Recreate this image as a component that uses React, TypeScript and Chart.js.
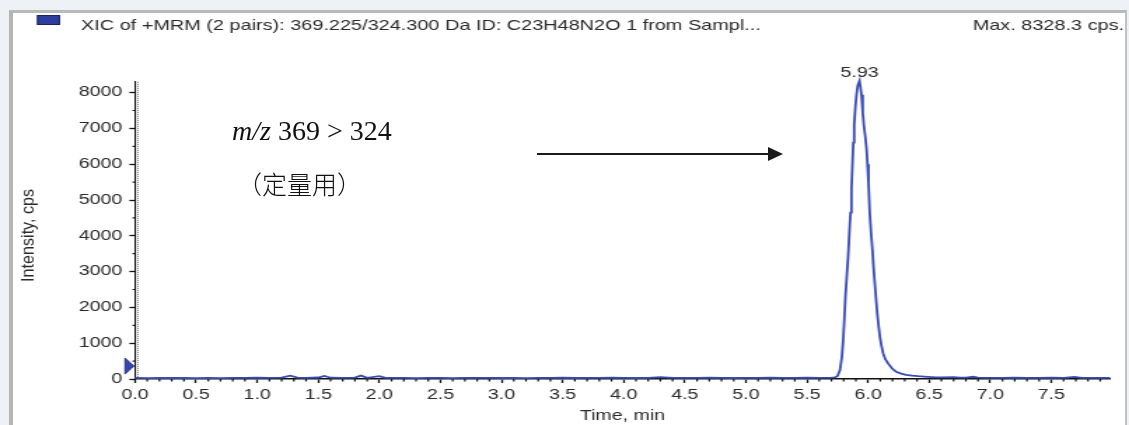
import React, { useEffect, useRef } from 'react';
import { Chart, registerables } from 'chart.js';

Chart.register(...registerables);

// Extracted ion chromatogram, MRM 369.225 -> 324.300
const TIME_MIN = [
  0.0, 0.1, 0.2, 0.3, 0.4, 0.5, 0.6, 0.7, 0.8, 0.9,
  1.0, 1.1, 1.2, 1.27, 1.33, 1.4, 1.5, 1.55, 1.6, 1.7,
  1.8, 1.85, 1.9, 2.0, 2.05, 2.1, 2.2, 2.3, 2.4, 2.5,
  2.6, 2.7, 2.8, 2.9, 3.0, 3.1, 3.2, 3.3, 3.4, 3.5,
  3.6, 3.7, 3.8, 3.9, 4.0, 4.1, 4.2, 4.3, 4.4, 4.5,
  4.6, 4.7, 4.8, 4.9, 5.0, 5.1, 5.2, 5.3, 5.4, 5.5,
  5.6, 5.7, 5.73, 5.75, 5.77, 5.785, 5.796, 5.805, 5.815, 5.826,
  5.837, 5.846, 5.856, 5.864, 5.872, 5.879, 5.886, 5.896, 5.905, 5.915,
  5.93, 5.946, 5.956, 5.965, 5.976, 5.987, 5.995, 6.003, 6.014, 6.025,
  6.036, 6.045, 6.055, 6.065, 6.075, 6.086, 6.097, 6.11, 6.123, 6.14,
  6.165, 6.195, 6.23, 6.27, 6.31, 6.36, 6.41, 6.46, 6.52, 6.56,
  6.6, 6.7, 6.75, 6.8, 6.86, 6.9, 7.0, 7.1, 7.2, 7.3,
  7.4, 7.5, 7.6, 7.69, 7.75, 7.8, 7.9, 7.98,
];

const INTENSITY_CPS = [
  30, 26, 34, 28, 31, 27, 33, 25, 30, 29,
  35, 31, 38, 92, 40, 33, 42, 88, 36, 30,
  38, 95, 34, 78, 32, 29, 31, 27, 33, 30,
  26, 32, 29, 34, 28, 31, 27, 33, 30, 35,
  28, 32, 29, 36, 31, 28, 34, 52, 30, 33,
  29, 35, 31, 28, 34, 30, 37, 32, 29, 35,
  31, 36, 42, 85, 250, 600, 1080, 1650, 2330, 2900,
  3440, 4050, 4650, 5300, 6000, 6600, 7100, 7600, 7940, 8200,
  8328.3, 7940, 7450, 7100, 6800, 6450, 6000, 5500, 4600, 4050,
  3580, 3100, 2670, 2230, 1830, 1480, 1170, 920, 720, 560,
  430, 300, 200, 150, 115, 95, 80, 68, 55, 48,
  44, 55, 40, 38, 62, 36, 34, 31, 35, 30,
  33, 36, 31, 58, 34, 30, 33, 31,
];

const HEADER_TITLE = 'XIC of +MRM (2 pairs): 369.225/324.300 Da ID: C23H48N2O 1 from Sampl...';
const X_TITLE = 'Time, min';
const Y_TITLE = 'Intensity, cps';
const THRESHOLD_CPS = 360;

const X_MIN = 0;
const X_MAX = 7.98;
const Y_MIN = 0;
const Y_MAX = 8300;
const X_MINOR_STEP = 0.1;
const X_MAJOR_STEP = 0.5;
const Y_MINOR_STEP = 500;
const Y_MAJOR_STEP = 1000;

// The whole plot is drawn on a narrower canvas and widened horizontally.
const PAGE_W = 1129;
const PAGE_H = 425;
const CANVAS_W = 806;
const SX = PAGE_W / CANVAS_W;

const PLOT_LEFT = 135;
const PLOT_RIGHT = 1110;
const PLOT_BOTTOM = 379;
const PX_PER_CPS = 0.0358;

const LINE_COLOR = '#3a4cb4';
const TEXT_COLOR = '#2a2a2a';
const AXIS_COLOR = '#111111';
const SANS = "'Liberation Sans', Arial, sans-serif";

const isStep = (v: number, step: number) => Math.abs(v / step - Math.round(v / step)) < 1e-6;

const xicDecorations = {
  id: 'xicDecorations',
  afterDraw(chart: any) {
    const { ctx, chartArea, scales } = chart;
    const xs = scales.x;
    const ys = scales.y;
    ctx.save();

    // header: legend swatch, trace description, maximum
    ctx.fillStyle = '#2d3f9e';
    ctx.fillRect(37 / SX, 15, 23 / SX, 10);
    ctx.strokeStyle = '#1a2260';
    ctx.lineWidth = 1;
    ctx.strokeRect(37 / SX + 0.5, 15.5, 23 / SX - 1, 9);

    const maxVal = Math.max(...INTENSITY_CPS);
    ctx.font = `14.2px ${SANS}`;
    ctx.fillStyle = TEXT_COLOR;
    ctx.textBaseline = 'alphabetic';
    ctx.textAlign = 'left';
    ctx.fillText(HEADER_TITLE, 81 / SX, 29.5);
    ctx.textAlign = 'right';
    ctx.fillText(`Max. ${maxVal.toFixed(1)} cps.`, 1124 / SX, 29.5);

    // dotted companion line right of the y axis
    ctx.strokeStyle = '#555';
    ctx.lineWidth = 0.8;
    ctx.setLineDash([1, 1]);
    ctx.beginPath();
    ctx.moveTo(chartArea.left + 3 / SX, chartArea.top);
    ctx.lineTo(chartArea.left + 3 / SX, chartArea.bottom);
    ctx.stroke();
    ctx.setLineDash([]);

    // minor ticks
    ctx.strokeStyle = AXIS_COLOR;
    ctx.lineWidth = 1.2;
    ctx.beginPath();
    xs.ticks.forEach((t: any) => {
      if (isStep(t.value, X_MAJOR_STEP)) return;
      const px = xs.getPixelForValue(t.value);
      ctx.moveTo(px, chartArea.bottom);
      ctx.lineTo(px, chartArea.bottom + 2.5);
    });
    for (let v = Y_MIN + Y_MINOR_STEP; v < Y_MAX; v += Y_MAJOR_STEP) {
      const py = ys.getPixelForValue(v);
      ctx.moveTo(chartArea.left, py);
      ctx.lineTo(chartArea.left - 2.5 / SX, py);
    }
    ctx.stroke();

    // threshold marker on the y axis
    const ty = ys.getPixelForValue(THRESHOLD_CPS);
    ctx.fillStyle = '#3446b0';
    ctx.strokeStyle = '#1d2870';
    ctx.lineWidth = 0.8;
    ctx.beginPath();
    ctx.moveTo(chartArea.left - 1 / SX, ty);
    ctx.lineTo(chartArea.left - 10 / SX, ty - 8);
    ctx.lineTo(chartArea.left - 10 / SX, ty + 8);
    ctx.closePath();
    ctx.fill();
    ctx.stroke();

    // apex label
    const iMax = INTENSITY_CPS.indexOf(maxVal);
    const apexX = xs.getPixelForValue(TIME_MIN[iMax]);
    const apexY = ys.getPixelForValue(maxVal);
    ctx.font = `14px ${SANS}`;
    ctx.fillStyle = TEXT_COLOR;
    ctx.textAlign = 'center';
    ctx.textBaseline = 'alphabetic';
    ctx.fillText(TIME_MIN[iMax].toFixed(2), apexX, apexY - 4);

    // y axis title, kept at its natural width
    ctx.save();
    ctx.translate(28.5 / SX, (chartArea.top + chartArea.bottom) / 2 + 5);
    ctx.scale(1 / SX, 1);
    ctx.rotate(-Math.PI / 2);
    ctx.scale(0.95, 1);
    ctx.font = `17px ${SANS}`;
    ctx.textAlign = 'center';
    ctx.textBaseline = 'middle';
    ctx.fillStyle = TEXT_COLOR;
    ctx.fillText(Y_TITLE, 0, 0);
    ctx.restore();

    ctx.restore();
  },
};

export default function App() {
  const canvasRef = useRef<HTMLCanvasElement>(null);

  useEffect(() => {
    const points = TIME_MIN.map((t, i) => ({ x: t, y: INTENSITY_CPS[i] }));
    const tickFont = { family: SANS, size: 14 };
    const chart = new Chart(canvasRef.current as HTMLCanvasElement, {
      type: 'line',
      data: {
        datasets: [
          {
            label: HEADER_TITLE,
            data: points,
            borderColor: LINE_COLOR,
            borderWidth: 1.8,
            pointRadius: 0,
            tension: 0,
            fill: false,
            clip: false as any,
          },
        ],
      },
      options: {
        animation: false,
        responsive: false,
        devicePixelRatio: 1,
        layout: {
          padding: {
            left: 0,
            right: CANVAS_W - PLOT_RIGHT / SX,
            top: PLOT_BOTTOM - Y_MAX * PX_PER_CPS,
            bottom: 0,
          },
        },
        plugins: {
          legend: { display: false },
          tooltip: { enabled: false },
          title: { display: false },
        },
        scales: {
          x: {
            type: 'linear',
            position: 'bottom',
            min: X_MIN,
            max: X_MAX,
            afterFit: (s: any) => {
              s.height = PAGE_H - PLOT_BOTTOM;
            },
            grid: {
              display: true,
              drawOnChartArea: false,
              drawTicks: true,
              tickLength: 4,
              tickWidth: 1.3,
              tickColor: (c: any) => (c.tick && isStep(c.tick.value, X_MAJOR_STEP) ? AXIS_COLOR : 'rgba(0,0,0,0)'),
            },
            border: { display: true, color: AXIS_COLOR, width: 1.6 },
            ticks: {
              stepSize: X_MINOR_STEP,
              autoSkip: false,
              includeBounds: false,
              maxRotation: 0,
              minRotation: 0,
              padding: 4,
              color: TEXT_COLOR,
              font: tickFont,
              callback: (v: any) => (isStep(Number(v), X_MAJOR_STEP) ? Number(v).toFixed(1) : ''),
            },
            title: {
              display: true,
              text: X_TITLE,
              color: TEXT_COLOR,
              font: tickFont,
              padding: 0,
            },
          },
          y: {
            type: 'linear',
            position: 'left',
            min: Y_MIN,
            max: Y_MAX,
            afterFit: (s: any) => {
              s.width = PLOT_LEFT / SX;
            },
            grid: {
              display: true,
              drawOnChartArea: false,
              drawTicks: true,
              tickLength: 4,
              tickWidth: 1.3,
              tickColor: AXIS_COLOR,
            },
            border: { display: true, color: AXIS_COLOR, width: 1.1 },
            ticks: {
              maxTicksLimit: 10,
              autoSkip: false,
              includeBounds: false,
              padding: 5,
              color: TEXT_COLOR,
              font: tickFont,
              callback: (v: any) => (isStep(Number(v), Y_MAJOR_STEP) ? String(v) : ''),
            },
            title: { display: false },
          },
        },
      },
      plugins: [xicDecorations],
    } as any);
    return () => chart.destroy();
  }, []);

  return (
    <div
      style={{
        position: 'fixed',
        left: 0,
        top: 0,
        width: PAGE_W,
        height: PAGE_H,
        overflow: 'hidden',
        background: '#eef1f5',
      }}
    >
      <div
        style={{
          position: 'absolute',
          left: 9,
          top: 10,
          width: 1127 - 9,
          height: PAGE_H,
          boxSizing: 'border-box',
          borderLeft: '4px solid #b5b5b5',
          borderTop: '3px solid #b9b9b9',
          borderRight: '2px solid #c2c2c2',
          background: '#ffffff',
        }}
      />
      <div
        style={{
          position: 'absolute',
          left: 0,
          top: 0,
          width: CANVAS_W,
          height: PAGE_H,
          transform: `scaleX(${SX})`,
          transformOrigin: '0 0',
        }}
      >
        <canvas
          ref={canvasRef}
          width={CANVAS_W}
          height={PAGE_H}
          style={{ display: 'block', width: CANVAS_W, height: PAGE_H }}
        />
      </div>
      <div
        style={{
          position: 'absolute',
          left: 232,
          top: 117,
          fontFamily: "'Liberation Serif', 'Times New Roman', serif",
          fontSize: 28,
          lineHeight: '28px',
          color: '#111',
          whiteSpace: 'nowrap',
        }}
      >
        <i>m/z</i> 369 &gt; 324
      </div>
      <div
        style={{
          position: 'absolute',
          left: 237,
          top: 171,
          fontFamily: "'Noto Sans CJK SC', sans-serif",
          fontSize: 25,
          lineHeight: '25px',
          fontWeight: 300,
          color: '#111',
          whiteSpace: 'nowrap',
        }}
      >
        （定量用）
      </div>
      <div
        style={{
          position: 'absolute',
          left: 537,
          top: 153,
          width: 233,
          height: 2,
          background: '#1a1a1a',
        }}
      />
      <div
        style={{
          position: 'absolute',
          left: 768,
          top: 147,
          width: 0,
          height: 0,
          borderTop: '7px solid transparent',
          borderBottom: '7px solid transparent',
          borderLeft: '15px solid #1a1a1a',
        }}
      />
    </div>
  );
}
